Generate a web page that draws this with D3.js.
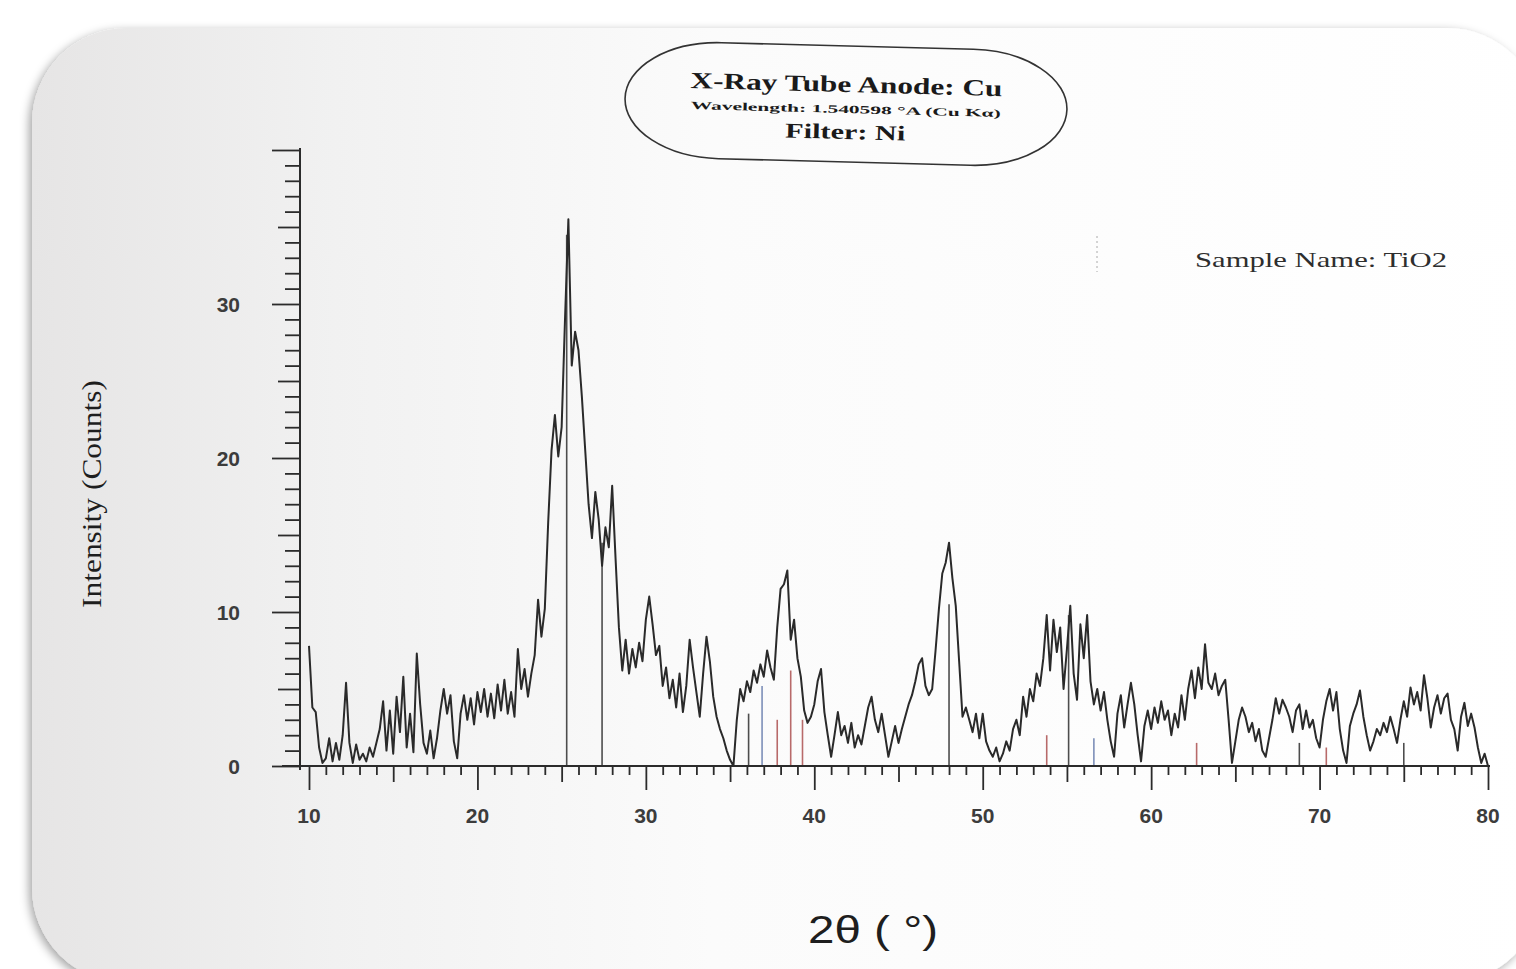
<!DOCTYPE html>
<html>
<head>
<meta charset="utf-8">
<script src="https://cdn.jsdelivr.net/npm/d3@7"></script>
<style>
  html, body { margin: 0; padding: 0; background: #fff; }
  .tickLabel { font-family: "Liberation Sans", Arial, sans-serif; font-size: 21px; font-weight: bold; fill: #3c3c3c; }
  .serif { font-family: "Liberation Serif", "Times New Roman", serif; }
</style>
</head>
<body>
<div id="xrd"></div>
<script>
// scan settings (2theta grid of the diffractometer)
var SCAN_START = 10;
var SCAN_STEP = 0.2;

// intensity (counts), one row per degree, 5 steps of 0.2 each
var intensity = [
  7.8, 3.8, 3.5, 1.2, 0.2,     // 10
  0.5, 1.8, 0.3, 1.5, 0.4,     // 11
  2.0, 5.4, 1.5, 0.2, 1.4,     // 12
  0.4, 0.8, 0.3, 1.2, 0.6,     // 13
  1.5, 2.4, 4.2, 1.0, 3.6,     // 14
  0.8, 4.5, 2.2, 5.8, 1.2,     // 15
  3.4, 0.9, 7.3, 4.0, 1.5,     // 16
  0.8, 2.3, 0.5, 1.8, 3.6,     // 17
  5.0, 3.4, 4.6, 1.6, 0.5,     // 18
  3.4, 4.6, 3.0, 4.4, 2.7,     // 19
  4.8, 3.5, 5.0, 3.2, 4.7,     // 20
  3.1, 5.3, 3.6, 5.6, 3.4,     // 21
  4.8, 3.2, 7.6, 5.0, 6.3,     // 22
  4.5, 6.0, 7.2, 10.8, 8.4,    // 23
  10.2, 15.8, 20.5, 22.8, 20.1,// 24
  22.0, 29.0, 35.5, 26.0, 28.2,// 25
  27.0, 24.0, 20.5, 17.0, 14.8,// 26
  17.8, 16.0, 13.0, 15.5, 14.2,// 27
  18.2, 13.5, 9.0, 6.2, 8.2,   // 28
  6.0, 7.6, 6.4, 8.0, 6.8,     // 29
  9.5, 11.0, 9.2, 7.2, 7.8,    // 30
  5.2, 6.4, 4.4, 5.6, 3.8,     // 31
  6.0, 3.5, 5.2, 8.2, 6.4,     // 32
  4.8, 3.2, 6.0, 8.4, 6.8,     // 33
  4.5, 3.2, 2.4, 1.8, 1.0,     // 34
  0.4, 0.0, 3.0, 5.0, 4.2,     // 35
  5.5, 4.8, 6.2, 5.4, 6.6,     // 36
  5.8, 7.5, 6.4, 5.6, 9.0,     // 37
  11.5, 11.8, 12.7, 8.2, 9.5,  // 38
  7.0, 5.8, 3.6, 2.8, 3.2,     // 39
  4.0, 5.5, 6.3, 3.5, 2.0,     // 40
  0.6, 2.0, 3.5, 2.0, 2.6,     // 41
  1.5, 2.8, 1.2, 2.0, 1.4,     // 42
  2.6, 3.8, 4.5, 3.0, 2.2,     // 43
  3.4, 2.0, 0.6, 1.6, 2.6,     // 44
  1.5, 2.4, 3.2, 4.0, 4.6,     // 45
  5.5, 6.6, 7.0, 5.2, 4.6,     // 46
  5.0, 7.5, 10.2, 12.5, 13.2,  // 47
  14.5, 12.2, 10.4, 6.8, 3.2,  // 48
  3.8, 3.0, 2.2, 3.4, 1.8,     // 49
  3.4, 1.6, 1.0, 0.6, 1.2,     // 50
  0.3, 0.8, 1.6, 1.0, 2.4,     // 51
  3.0, 2.0, 4.5, 3.2, 5.0,     // 52
  4.2, 6.0, 5.2, 7.0, 9.8,     // 53
  6.2, 9.5, 7.4, 9.0, 5.0,     // 54
  7.6, 10.4, 6.0, 4.3, 9.2,    // 55
  7.0, 9.8, 5.5, 4.0, 5.0,     // 56
  3.6, 4.8, 3.0, 1.6, 0.6,     // 57
  3.4, 4.6, 2.5, 4.0, 5.4,     // 58
  4.0, 2.0, 0.3, 2.6, 3.6,     // 59
  2.4, 3.8, 2.8, 4.2, 3.0,     // 60
  3.6, 2.0, 3.4, 2.5, 4.6,     // 61
  3.0, 5.0, 6.2, 4.4, 6.4,     // 62
  5.0, 7.9, 5.4, 5.0, 6.0,     // 63
  4.6, 5.2, 5.6, 3.0, 0.2,     // 64
  1.6, 3.0, 3.8, 3.2, 2.2,     // 65
  2.8, 1.6, 2.4, 1.0, 0.6,     // 66
  1.8, 3.0, 4.4, 3.4, 4.3,     // 67
  3.8, 3.2, 2.2, 3.6, 4.0,     // 68
  2.4, 3.6, 2.5, 3.0, 1.8,     // 69
  1.2, 3.0, 4.2, 5.0, 3.6,     // 70
  4.8, 2.4, 1.0, 0.2, 2.6,     // 71
  3.4, 4.0, 4.9, 3.2, 2.0,     // 72
  1.0, 1.6, 2.4, 2.0, 2.8,     // 73
  2.2, 3.2, 2.4, 1.5, 3.0,     // 74
  4.2, 3.2, 5.1, 4.0, 4.8,     // 75
  3.6, 5.9, 4.4, 2.5, 3.8,     // 76
  4.6, 3.4, 4.4, 4.7, 3.0,     // 77
  2.4, 1.0, 3.2, 4.1, 2.6,     // 78
  3.4, 2.5, 1.2, 0.2, 0.8,     // 79
  0.0                          // 80
];

// reference pattern sticks
var stickAngles = [25.3, 27.4, 36.1, 36.9, 37.8, 38.6, 39.3, 48.0, 53.8, 55.1, 56.6, 62.7, 68.8, 70.4, 75.0];
var stickHeights = [34.5, 14.5, 3.4, 5.2, 3.0, 6.2, 3.0, 10.5, 2.0, 9.8, 1.8, 1.5, 1.5, 1.2, 1.5];
var stickPhases = ["A", "A", "A", "B", "R", "R", "R", "A", "R", "A", "B", "R", "A", "R", "A"];

var xTickValues = [10, 20, 30, 40, 50, 60, 70, 80];
var yTickValues = [0, 10, 20, 30];

var titleLines = ["X-Ray Tube Anode: Cu", "Wavelength: 1.540598 \u00b0A (Cu K\u03b1)", "Filter: Ni"];
var sampleLabel = "Sample Name: TiO2";

var W = 1516, H = 969;

var svg = d3.select("#xrd")
    .append("svg")
    .attr("width", W)
    .attr("height", H);

var defs = svg.append("defs");

// paper shading, grey on the left fading to white
var grad = defs.append("linearGradient").attr("id", "paper")
    .attr("x1", "0").attr("y1", "0").attr("x2", "1").attr("y2", "0");
grad.append("stop").attr("offset", "0").attr("stop-color", "#e6e5e5");
grad.append("stop").attr("offset", "0.2").attr("stop-color", "#f1f1f1");
grad.append("stop").attr("offset", "0.45").attr("stop-color", "#fbfbfb");
grad.append("stop").attr("offset", "1").attr("stop-color", "#ffffff");

var shadow = defs.append("filter").attr("id", "shadow")
    .attr("x", "-5%").attr("y", "-5%").attr("width", "110%").attr("height", "110%");
shadow.append("feDropShadow")
    .attr("dx", -3).attr("dy", 3)
    .attr("stdDeviation", 5)
    .attr("flood-color", "#000")
    .attr("flood-opacity", 0.35);

// the sheet
svg.append("rect")
    .attr("x", 32).attr("y", 28)
    .attr("width", 1510).attr("height", 955)
    .attr("rx", 95).attr("ry", 95)
    .attr("fill", "url(#paper)")
    .attr("filter", "url(#shadow)");

var x = d3.scaleLinear().domain([10, 80]).range([309, 1488]);
var y = d3.scaleLinear().domain([0, 40]).range([766, 150]);
var axisX = 300;   // where the y axis stands

var points = intensity.map(function(v, i) {
    return [SCAN_START + i * SCAN_STEP, v];
});

// stick pattern behind the curve
var phaseColor = d3.scaleOrdinal()
    .domain(["A", "R", "B"])
    .range(["#4d4d4d", "#b86a6a", "#7d8fb8"]);

svg.append("g").selectAll("line")
    .data(stickAngles)
    .enter().append("line")
    .attr("x1", function(d) { return x(d); })
    .attr("x2", function(d) { return x(d); })
    .attr("y1", y(0))
    .attr("y2", function(d, i) { return y(stickHeights[i]); })
    .attr("stroke", function(d, i) { return phaseColor(stickPhases[i]); })
    .attr("stroke-width", 1.6);

// x axis, ticks below the line
var xAxis = d3.axisBottom(x)
    .tickValues(d3.range(10, 81, 1))
    .tickSize(0)
    .tickFormat("");
var gx = svg.append("g").attr("transform", "translate(0," + y(0) + ")").call(xAxis);
gx.select(".domain").remove();
gx.selectAll(".tick line")
    .attr("y2", function(d) { return d % 10 === 0 ? 24 : (d % 5 === 0 ? 16 : 9); })
    .attr("stroke", "#2b2b2b")
    .attr("stroke-width", 1.8);
gx.append("line")
    .attr("x1", 282).attr("x2", x(80) + 2)
    .attr("stroke", "#2b2b2b").attr("stroke-width", 1.8);

svg.append("g").selectAll("text")
    .data(xTickValues)
    .enter().append("text")
    .attr("class", "tickLabel")
    .attr("x", function(d) { return x(d); })
    .attr("y", y(0) + 57)
    .attr("text-anchor", "middle")
    .text(function(d) { return d; });

// y axis, ticks to the left
var yAxis = d3.axisLeft(y)
    .tickValues(d3.range(0, 41, 1))
    .tickSize(0)
    .tickFormat("");
var gy = svg.append("g").attr("transform", "translate(" + axisX + ",0)").call(yAxis);
gy.select(".domain").remove();
gy.selectAll(".tick line")
    .attr("x2", function(d) { return d % 10 === 0 ? -28 : (d % 5 === 0 ? -22 : -15); })
    .attr("stroke", "#2b2b2b")
    .attr("stroke-width", 1.8);
gy.append("line")
    .attr("y1", y(40) - 2).attr("y2", y(0) + 4)
    .attr("stroke", "#2b2b2b").attr("stroke-width", 2);

svg.append("g").selectAll("text")
    .data(yTickValues)
    .enter().append("text")
    .attr("class", "tickLabel")
    .attr("x", 240)
    .attr("y", function(d) { return y(d) + 8; })
    .attr("text-anchor", "end")
    .text(function(d) { return d; });

// measured curve
var line = d3.line()
    .x(function(d) { return x(d[0]); })
    .y(function(d) { return y(d[1]); });

svg.append("path")
    .datum(points)
    .attr("d", line)
    .attr("fill", "none")
    .attr("stroke", "#2a2a2a")
    .attr("stroke-width", 2)
    .attr("stroke-linejoin", "round");

// axis titles
svg.append("text")
    .attr("class", "serif")
    .attr("transform", "translate(101,494) rotate(-90)")
    .attr("text-anchor", "middle")
    .attr("font-size", 28)
    .attr("textLength", 228)
    .attr("lengthAdjust", "spacingAndGlyphs")
    .attr("fill", "#1e1e1e")
    .text("Intensity (Counts)");

svg.append("text")
    .attr("x", 873).attr("y", 943)
    .attr("text-anchor", "middle")
    .attr("font-family", "'Liberation Sans', Arial, sans-serif")
    .attr("font-size", 38)
    .attr("textLength", 130)
    .attr("lengthAdjust", "spacingAndGlyphs")
    .attr("fill", "#1e1e1e")
    .text("2\u03b8 ( \u00b0)");

// instrument box
var box = svg.append("g").attr("transform", "rotate(1.5 846 104)");
box.append("rect")
    .attr("x", 625).attr("y", 46)
    .attr("width", 442).attr("height", 116)
    .attr("rx", 95).attr("ry", 58)
    .attr("fill", "none")
    .attr("stroke", "#333")
    .attr("stroke-width", 1.6);

var lineY = [92, 113, 139];
var lineSize = [23, 11, 21];
var lineLen = [312, 310, 120];
box.selectAll("text.title")
    .data(titleLines)
    .enter().append("text")
    .attr("class", "serif title")
    .attr("x", 846)
    .attr("y", function(d, i) { return lineY[i]; })
    .attr("text-anchor", "middle")
    .attr("font-weight", "bold")
    .attr("font-size", function(d, i) { return lineSize[i]; })
    .attr("textLength", function(d, i) { return lineLen[i]; })
    .attr("lengthAdjust", "spacingAndGlyphs")
    .attr("fill", "#1a1a1a")
    .text(function(d) { return d; });

// sample name with the faint dotted marker before it
svg.append("line")
    .attr("x1", 1097).attr("x2", 1097)
    .attr("y1", 236).attr("y2", 272)
    .attr("stroke", "#aaa")
    .attr("stroke-width", 1)
    .attr("stroke-dasharray", "2,3");

svg.append("text")
    .attr("class", "serif")
    .attr("x", 1195).attr("y", 267)
    .attr("font-size", 22)
    .attr("textLength", 252)
    .attr("lengthAdjust", "spacingAndGlyphs")
    .attr("fill", "#2e2e2e")
    .text(sampleLabel);
</script>
</body>
</html>
